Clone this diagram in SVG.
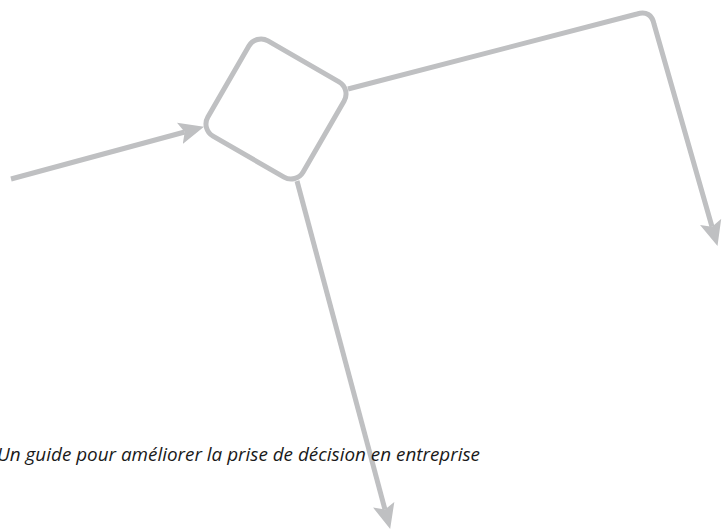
<svg xmlns="http://www.w3.org/2000/svg" width="725" height="531" viewBox="0 0 725 531">
<style>
.c{fill:none;stroke:#bfc0c2;stroke-width:5;stroke-linejoin:round}
.t{font-family:"Open Sans","Noto Sans","DejaVu Sans",sans-serif;font-style:italic;font-size:18.5px;fill:#1a1a1a}
</style>
<defs>
<marker id="ah" markerUnits="userSpaceOnUse" markerWidth="30" markerHeight="24" refX="5" refY="11" orient="auto" viewBox="0 0 30 22">
<path d="M0,0 L25,11 L0,22 L5,11 Z" fill="#bfc0c2"/>
</marker>
</defs>
<g id="connectors">
<path class="c" d="M11,179 L184.7,132" marker-end="url(#ah)"/>
<path class="c" d="M348,89 L637,14 Q651,10 654,24 L712,226.7" marker-end="url(#ah)"/>
<path class="c" d="M297,181 L385,509.6" marker-end="url(#ah)"/>
</g>
<g id="node">
<rect class="c" x="221" y="54" width="110" height="110" rx="14" transform="rotate(30 276 109)"/>
</g>
<g id="caption">
<text class="t" x="-3" y="461" textLength="483" lengthAdjust="spacingAndGlyphs">Un guide pour améliorer la prise de décision en entreprise</text>
</g>
</svg>
